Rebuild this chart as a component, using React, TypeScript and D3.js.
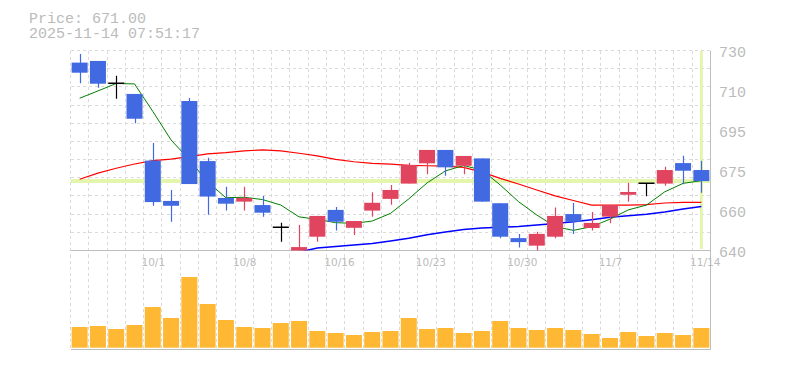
import React, { useRef, useEffect } from 'react';
import * as d3 from 'd3';

const dates = ["9/25","9/26","9/29","9/30","10/1","10/2","10/3","10/6","10/7","10/8","10/9","10/10","10/14","10/15","10/16","10/17","10/20","10/21","10/22","10/23","10/24","10/27","10/28","10/29","10/30","10/31","11/4","11/5","11/6","11/7","11/10","11/11","11/12","11/13","11/14"];
const opens = [725.4,726.2,715.6,710.6,680.1,662.3,707.3,679.9,663.6,662.0,660.5,650.9,640.4,646.9,658.4,650.7,658.1,663.2,669.9,678.9,684.9,677.8,681.1,661.3,646.3,643.1,646.9,656.6,650.6,655.5,665.0,670.0,669.9,679.0,675.9];
const highs = [729.5,726.2,719.1,710.6,688.0,667.1,708.7,681.4,668.5,668.5,664.5,652.9,651.9,655.8,659.7,653.6,666.1,669.3,679.2,684.9,684.9,682.2,681.1,661.3,648.1,649.0,659.5,661.4,657.5,660.5,670.3,670.0,677.4,682.3,680.1];
const lows = [715.6,713.5,708.4,697.0,660.2,653.3,669.7,656.3,658.1,658.1,655.5,644.8,639.5,644.8,649.5,647.6,655.5,660.6,669.9,674.0,673.4,674.0,662.0,646.2,642.3,641.0,646.2,648.0,649.5,652.6,662.0,664.3,669.0,669.6,665.9];
const closes = [720.6,715.4,715.6,699.1,661.8,660.2,669.7,664.2,661.1,663.6,657.2,650.9,642.5,655.8,653.3,653.6,661.5,667.1,678.2,684.9,677.1,682.2,662.0,646.9,644.6,648.1,655.8,653.3,652.8,660.5,666.2,670.0,675.9,675.6,671.0];
const volumes = [207,217,187,227,407,297,707,437,277,207,197,247,267,167,147,127,157,167,297,187,197,147,167,267,197,177,197,177,137,97,157,117,147,127,197];
const maShort = [708.6,712.0,715.5,715.3,702.5,689.4,680.5,670.6,663.7,663.9,662.9,660.5,655.4,654.3,652.9,652.6,653.6,656.9,663.2,670.2,675.5,677.9,675.9,669.3,662.0,656.2,651.2,649.6,651.2,654.4,658.4,660.5,666.3,670.0,671.2];
const maMid = [671.8,674.5,676.7,678.6,680.1,680.8,681.9,683.1,683.7,684.5,684.9,684.5,683.4,682.2,680.7,679.6,678.9,678.5,678.0,677.8,677.6,677.1,675.0,672.2,669.7,667.1,664.5,662.5,660.5,660.5,660.5,660.7,661.4,661.7,661.7];
const maLong: (number | null)[] = [null,null,null,null,null,null,null,null,null,null,null,null,640.4,642.1,642.7,643.4,644.0,645.1,646.2,647.7,648.9,650.0,650.6,650.9,651.3,651.9,652.5,653.3,654.2,655.2,655.9,656.5,657.5,658.8,659.9];
const xTickLabels = ["10/1","10/8","10/16","10/23","10/30","11/7","11/14"];
const yTickLabels = ["730","710","695","675","660","640"];
const priceDomain = [640, 730];
const volumeMax = 840;
const lastPrice = 671.0;
const titleLine1 = "Price: 671.00";
const titleLine2 = "2025-11-14 07:51:17";

export default function App() {
  const ref = useRef<SVGSVGElement>(null);
  useEffect(() => {
    const W = 785, H = 370;
    const plotLeft = 70.5, plotRight = 710.5, plotTop = 50.5, plotBottom = 250.5, volBottom = 349.5;
    const svg = d3.select(ref.current!);
    svg.selectAll('*').remove();
    svg.attr('width', W).attr('height', H);

    const x = d3.scaleBand<string>().domain(dates).range([plotLeft, plotRight]).padding(0);
    const step = x.bandwidth();
    const cx = (i: number) => (x(dates[i]) as number) + step / 2;
    const bodyW = step * 0.875;
    const y = d3.scaleLog().domain(priceDomain).range([253, 53]);
    const yLab = d3.scaleLinear().domain([0, yTickLabels.length - 1]).range([53, 253]);
    const vy = d3.scaleLinear().domain([0, volumeMax]).range([347.7, 263.7]);

    const defs = svg.append('defs');
    defs.append('clipPath').attr('id', 'mainClip').append('rect')
      .attr('x', plotLeft).attr('y', plotTop).attr('width', plotRight - plotLeft).attr('height', plotBottom - plotTop);

    // grid
    const grid = svg.append('g').attr('stroke', '#dadada').attr('stroke-dasharray', '3,3').attr('shape-rendering', 'crispEdges');
    dates.forEach((d) => {
      const gx = x(d) as number;
      grid.append('line').attr('x1', gx).attr('x2', gx).attr('y1', plotTop).attr('y2', volBottom);
    });
    const nH = 11;
    for (let j = 0; j < nH; j++) {
      const gy = plotTop + (plotBottom - plotTop) * j / nH;
      grid.append('line').attr('x1', plotLeft).attr('x2', plotRight).attr('y1', gy).attr('y2', gy);
    }

    // borders
    const border = svg.append('g').attr('stroke', '#bdbdbd').attr('stroke-width', 1).attr('shape-rendering', 'crispEdges');
    border.append('line').attr('x1', plotLeft).attr('x2', plotRight).attr('y1', plotBottom).attr('y2', plotBottom);
    border.append('line').attr('x1', plotLeft).attr('x2', plotRight).attr('y1', volBottom).attr('y2', volBottom);
    border.append('line').attr('x1', plotRight).attr('x2', plotRight).attr('y1', plotTop).attr('y2', volBottom);

    const main = svg.append('g').attr('clip-path', 'url(#mainClip)');
    // price markers
    main.append('line').attr('x1', plotLeft).attr('x2', plotRight).attr('y1', y(lastPrice)).attr('y2', y(lastPrice))
      .attr('stroke', '#e4f5ae').attr('stroke-width', 4);
    main.append('line').attr('x1', cx(dates.length - 1)).attr('x2', cx(dates.length - 1)).attr('y1', plotTop + 0.5).attr('y2', plotBottom - 1.5)
      .attr('stroke', '#e4f5ae').attr('stroke-width', 3);

    const mkLine = d3.line<number | null>().defined((v) => v != null).x((_, i) => cx(i)).y((v) => y(v as number));
    main.append('path').attr('d', mkLine(maMid)).attr('fill', 'none').attr('stroke', '#ff0000').attr('stroke-width', 1.2);
    main.append('path').attr('d', mkLine(maLong)).attr('fill', 'none').attr('stroke', '#0000ff').attr('stroke-width', 1.5);
    main.append('path').attr('d', mkLine(maShort)).attr('fill', 'none').attr('stroke', '#008000').attr('stroke-width', 1);

    // candles
    dates.forEach((d, i) => {
      const o = opens[i], c = closes[i], h = highs[i], l = lows[i];
      const color = c > o ? '#e1445f' : c < o ? '#4169e1' : '#000000';
      const xc = Math.round(cx(i)) + 0.5;
      main.append('line').attr('x1', xc).attr('x2', xc).attr('y1', y(h)).attr('y2', y(l))
        .attr('stroke', color).attr('stroke-width', 1.2);
      if (c === o) {
        main.append('line').attr('x1', cx(i) - bodyW / 2).attr('x2', cx(i) + bodyW / 2).attr('y1', y(o)).attr('y2', y(o))
          .attr('stroke', color).attr('stroke-width', 1.5);
      } else {
        const top = y(Math.max(o, c)), bot = y(Math.min(o, c));
        main.append('rect').attr('x', cx(i) - bodyW / 2).attr('y', top).attr('width', bodyW).attr('height', Math.max(1, bot - top))
          .attr('fill', color);
      }
    });

    // volume
    svg.append('g').selectAll('rect').data(volumes).enter().append('rect')
      .attr('x', (_, i) => cx(i) - bodyW / 2).attr('width', bodyW)
      .attr('y', (v) => vy(v)).attr('height', (v) => vy(0) - vy(v))
      .attr('fill', '#ffb833');

    // y labels
    svg.append('g').selectAll('text').data(yTickLabels).enter().append('text')
      .attr('x', 719).attr('y', (_, i) => yLab(i)).attr('dominant-baseline', 'central')
      .attr('font-family', '"Liberation Mono", monospace').attr('font-size', 15).attr('fill', '#bbbbbb')
      .text((t) => t);

    // x labels
    svg.append('g').selectAll('text').data(xTickLabels).enter().append('text')
      .attr('x', (t) => cx(dates.indexOf(t)) - 11.3).attr('y', 265.8)
      .attr('font-family', '"DejaVu Sans", sans-serif').attr('font-size', 10.5).attr('fill', '#bbbbbb')
      .text((t) => t);

    // title
    svg.append('text').attr('x', 29).attr('y', 23.3).attr('font-family', '"Liberation Mono", monospace')
      .attr('font-size', 15).attr('fill', '#bbbbbb').text(titleLine1);
    svg.append('text').attr('x', 29).attr('y', 38.3).attr('font-family', '"Liberation Mono", monospace')
      .attr('font-size', 15).attr('fill', '#bbbbbb').text(titleLine2);
  }, []);
  return <svg ref={ref} width={785} height={370} style={{ position: 'absolute', left: 0, top: 0, background: '#ffffff' }} />;
}
